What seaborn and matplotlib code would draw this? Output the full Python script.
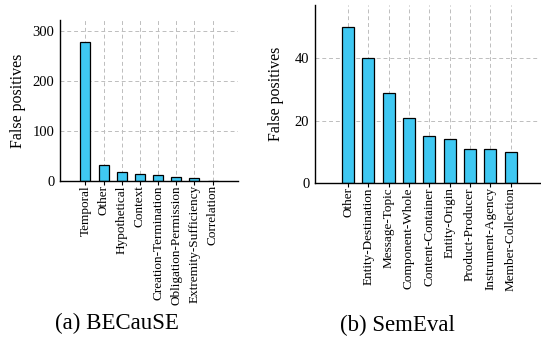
import matplotlib
matplotlib.use("Agg")
import matplotlib.pyplot as plt
import seaborn as sns
import pandas as pd

# Data
because_labels = ["Temporal", "Other", "Hypothetical", "Context", "Creation-Termination",
                  "Obligation-Permission", "Extremity-Sufficiency", "Correlation"]
because_values = [278, 32, 19, 15, 13, 8, 6, 1]

semeval_labels = ["Other", "Entity-Destination", "Message-Topic", "Component-Whole",
                  "Content-Container", "Entity-Origin", "Product-Producer",
                  "Instrument-Agency", "Member-Collection"]
semeval_values = [50, 40, 29, 21, 15, 14, 11, 11, 10]

BAR_COLOR = "#3FC8F2"

sns.set_style("white")
plt.rcParams["font.family"] = ["Liberation Serif", "DejaVu Serif"]
plt.rcParams["text.color"] = "black"
plt.rcParams["axes.labelcolor"] = "black"
plt.rcParams["xtick.color"] = "black"
plt.rcParams["ytick.color"] = "black"

fig = plt.figure(figsize=(5.41, 3.41), dpi=100)
ax1 = fig.add_axes([0.111, 0.469, 0.329, 0.472])
ax2 = fig.add_axes([0.582, 0.463, 0.416, 0.522])


def draw_panel(ax, labels, values, width, xlim, ylim, yticks, caption, cap_x, cap_y, ypad):
    df = pd.DataFrame({"label": labels, "value": values})
    sns.barplot(data=df, x="label", y="value", ax=ax, color=BAR_COLOR,
                edgecolor="black", linewidth=0.9, width=width, saturation=1)
    ax.set_xlim(*xlim)
    ax.set_ylim(*ylim)
    ax.set_yticks(yticks)
    ax.set_xlabel("")
    ax.set_ylabel("False positives", fontsize=11.5, labelpad=ypad)
    ax.tick_params(axis="x", rotation=90, labelsize=9.5, length=3, width=0.8,
                   direction="out", pad=0, bottom=True)
    ax.tick_params(axis="y", labelsize=10.5, length=0, pad=4)
    ax.grid(True, linestyle=(0, (4, 3)), color="#bdbdbd", linewidth=0.7)
    ax.set_axisbelow(True)
    for side in ["top", "right"]:
        ax.spines[side].set_visible(False)
    for side in ["left", "bottom"]:
        ax.spines[side].set_color("black")
        ax.spines[side].set_linewidth(1.0)
    fig.text(cap_x, cap_y, caption, ha="center", va="center", fontsize=16.5)


draw_panel(ax1, because_labels, because_values, 0.55, (-1.4, 8.4), (0, 322),
           [0, 100, 200, 300], "(a) BECauSE", 117 / 541, 1 - 323 / 341, 5)
draw_panel(ax2, semeval_labels, semeval_values, 0.59, (-1.63, 9.44), (0, 57),
           [0, 20, 40], "(b) SemEval", 397 / 541, 1 - 325 / 341, 8)

fig.savefig("out.png", dpi=100)
